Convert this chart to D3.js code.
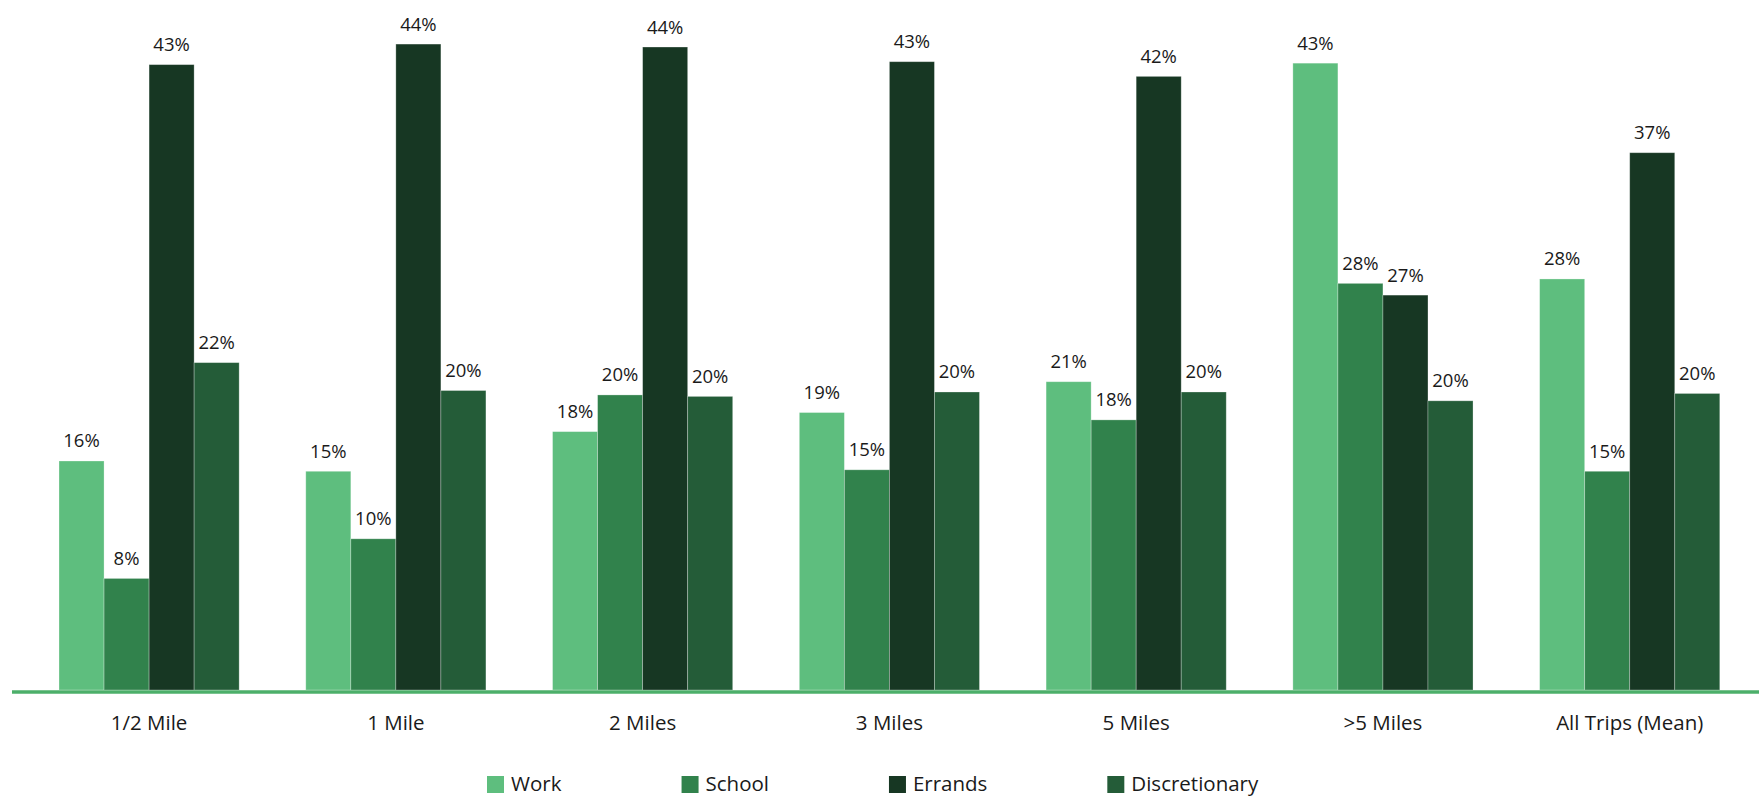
<!DOCTYPE html>
<html>
<head>
<meta charset="utf-8">
<script src="https://cdn.jsdelivr.net/npm/d3@7"></script>
<style>
  html, body { margin: 0; padding: 0; background: #ffffff; }
  svg { display: block; }
  text { font-family: "Open Sans", "DejaVu Sans", sans-serif; fill: #1a1a1a; }
</style>
</head>
<body>
<svg id="chart" width="1759" height="798"></svg>
<script>
// ---- Data ----
const categories = ["1/2 Mile", "1 Mile", "2 Miles", "3 Miles", "5 Miles", ">5 Miles", "All Trips (Mean)"];
const seriesNames = ["Work", "School", "Errands", "Discretionary"];
const work          = [15.6, 14.9, 17.6, 18.9, 21.0, 42.7, 28.0];
const school        = [7.6, 10.3, 20.1, 15.0, 18.4, 27.7, 14.9];
const errands       = [42.6, 44.0, 43.8, 42.8, 41.8, 26.9, 36.6];
const discretionary = [22.3, 20.4, 20.0, 20.3, 20.3, 19.7, 20.2];
const colors = ["#5ebe7e", "#31824c", "#173723", "#245c38"];

const seriesValues = [work, school, errands, discretionary];
const rows = categories.map((c, i) => ({
  category: c,
  values: seriesNames.map((s, j) => ({ series: s, value: seriesValues[j][i] }))
}));

// ---- Layout ----
const svg = d3.select("#chart");
const baseY = 690;

const x0 = d3.scaleBand()
  .domain(categories)
  .range([25.7, 1753.1])
  .paddingInner(0.27)
  .paddingOuter(0.135);

const x1 = d3.scaleBand()
  .domain(seriesNames)
  .range([0, x0.bandwidth()])
  .padding(0);

const y = d3.scaleLinear()
  .domain([0, 45])
  .range([baseY, baseY - 45 * 14.68]);

const color = d3.scaleOrdinal().domain(seriesNames).range(colors);

// Bars
const groups = svg.append("g").selectAll("g")
  .data(rows)
  .join("g")
  .attr("transform", d => `translate(${x0(d.category)},0)`);

groups.selectAll("rect")
  .data(d => d.values)
  .join("rect")
  .attr("x", d => x1(d.series))
  .attr("y", d => y(d.value))
  .attr("width", x1.bandwidth())
  .attr("height", d => y(0) - y(d.value))
  .attr("fill", d => color(d.series))
  .attr("stroke", "rgba(255,255,255,0.35)")
  .attr("stroke-width", 0.8);

// Value labels
groups.selectAll("text.val")
  .data(d => d.values)
  .join("text")
  .attr("class", "val")
  .attr("x", d => x1(d.series) + x1.bandwidth() / 2)
  .attr("y", d => y(d.value) - 13.5)
  .attr("text-anchor", "middle")
  .style("font-size", "18.5px")
  .text(d => Math.round(d.value) + "%");

// Baseline axis
const xAxis = d3.axisBottom(x0).tickSize(0).tickPadding(0);
const axisG = svg.append("g")
  .attr("transform", `translate(0,${baseY})`)
  .call(xAxis);
axisG.select(".domain").remove();
axisG.selectAll("text")
  .attr("y", 40)
  .attr("dy", 0)
  .style("font-size", "20.5px")
  .style("fill", "#1a1a1a")
  .style("font-family", "'Open Sans', sans-serif");

svg.append("line")
  .attr("x1", 12).attr("x2", 1759)
  .attr("y1", baseY + 2).attr("y2", baseY + 2)
  .attr("stroke", "#4caf6a")
  .attr("stroke-width", 3.5);

// Legend
const legend = svg.append("g");
const items = legend.selectAll("g")
  .data(seriesNames)
  .join("g");
items.append("rect")
  .attr("x", 0).attr("y", 776)
  .attr("width", 17).attr("height", 17)
  .attr("fill", d => color(d));
items.append("text")
  .attr("x", 24).attr("y", 791)
  .style("font-size", "20.5px")
  .text(d => d);

let widths = [];
items.each(function() { widths.push(this.getBBox().width); });
const legendStart = 487, legendEnd = 1259;
const gap = (legendEnd - legendStart - d3.sum(widths)) / (widths.length - 1);
let cx = legendStart;
items.attr("transform", (d, i) => {
  const t = `translate(${cx},0)`;
  cx += widths[i] + gap;
  return t;
});
</script>
</body>
</html>
